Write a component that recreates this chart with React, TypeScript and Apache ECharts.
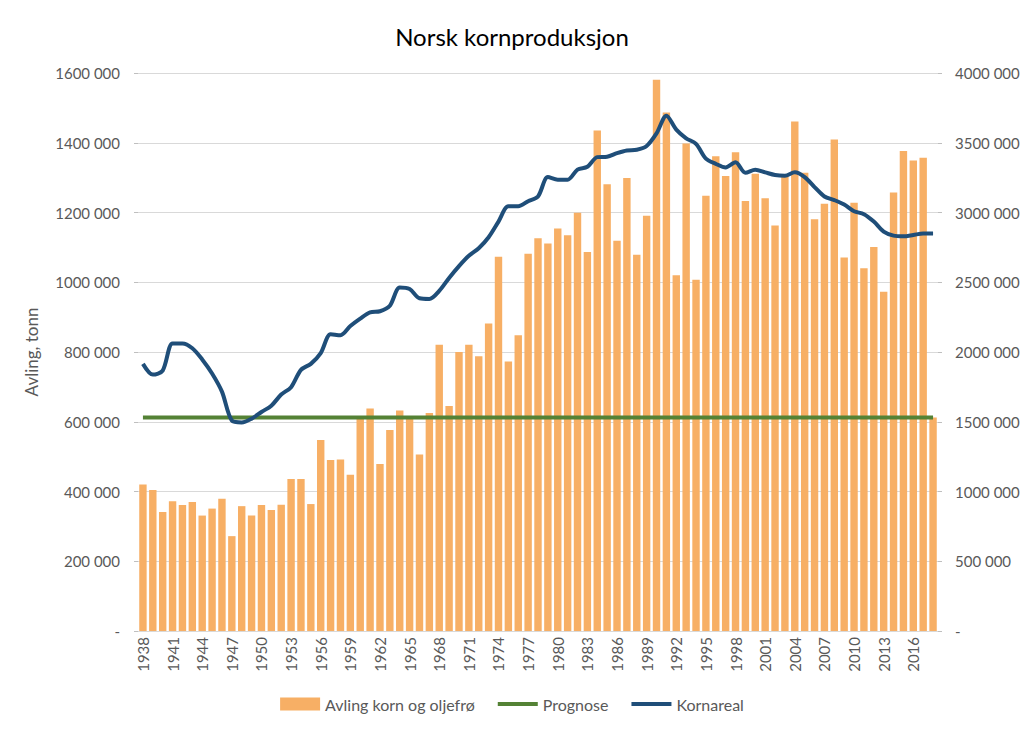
import React, { useEffect, useRef } from "react";
import * as echarts from "echarts";

const years: string[] = [];
for (let y = 1938; y <= 2018; y++) years.push(String(y));

const avling: number[] = [
  420000, 404000, 341000, 372000, 361000, 370000, 331000, 351000, 379000, 272000,
  358000, 331000, 361000, 347000, 362000, 436000, 436000, 364000, 548000, 490000,
  492000, 448000, 614000, 638000, 479000, 576000, 632000, 609000, 506000, 625000,
  821000, 645000, 800000, 821000, 788000, 882000, 1073000, 773000, 848000, 1082000,
  1126000, 1111000, 1154000, 1135000, 1199000, 1087000, 1435000, 1281000, 1119000, 1299000,
  1079000, 1191000, 1581000, 1487000, 1020000, 1398000, 1007000, 1248000, 1361000, 1305000,
  1373000, 1233000, 1311000, 1241000, 1163000, 1307000, 1461000, 1314000, 1181000, 1225000,
  1409000, 1071000, 1228000, 1040000, 1101000, 973000, 1257000, 1376000, 1349000, 1357000,
  612000,
];

const prognoseValue = 612000;
const prognose: number[] = years.map(() => prognoseValue);

const kornareal: number[] = [
  1915000, 1838000, 1867000, 2061000, 2061000, 2027000, 1947000, 1846000, 1716000, 1509000,
  1495000, 1522000, 1570000, 1615000, 1695000, 1748000, 1872000, 1915000, 1992000, 2127000,
  2120000, 2186000, 2239000, 2284000, 2292000, 2332000, 2462000, 2451000, 2385000, 2380000,
  2438000, 2531000, 2616000, 2690000, 2744000, 2823000, 2935000, 3044000, 3044000, 3081000,
  3115000, 3254000, 3235000, 3235000, 3307000, 3328000, 3397000, 3400000, 3426000, 3445000,
  3450000, 3477000, 3567000, 3694000, 3594000, 3532000, 3492000, 3386000, 3349000, 3323000,
  3360000, 3285000, 3307000, 3288000, 3269000, 3264000, 3288000, 3254000, 3182000, 3115000,
  3089000, 3057000, 3009000, 2988000, 2935000, 2863000, 2834000, 2829000, 2839000, 2850000,
  2850000,
];

const fmt = (v: number): string => {
  if (v === 0) return "-";
  const th = Math.floor(v / 1000);
  const rest = String(v % 1000).padStart(3, "0");
  return `${th} ${rest}`;
};

const FONT = "Lato, 'Open Sans', sans-serif";
const GREY = "#595959";
const LINE_ICON = "path://M0,0 L40,0 L40,4 L0,4 Z";

export default function App() {
  const ref = useRef<HTMLDivElement>(null);
  useEffect(() => {
    if (!ref.current) return;
    const chart = echarts.init(ref.current, null, { renderer: "svg" });
    chart.setOption({
      animation: false,
      backgroundColor: "#fff",
      textStyle: { fontFamily: FONT },
      title: {
        text: "Norsk kornproduksjon",
        left: "center",
        top: 19,
        textStyle: { fontFamily: FONT, fontSize: 24, fontWeight: "normal", color: "#000" },
      },
      legend: {
        bottom: 19,
        left: "center",
        itemGap: 23,
        itemWidth: 40,
        itemHeight: 13,
        itemTextGap: 2,
        textStyle: { fontFamily: FONT, fontSize: 16, color: GREY },
        data: [
          { name: "Avling korn og oljefrø", icon: "rect" },
          { name: "Prognose", icon: LINE_ICON },
          { name: "Kornareal", icon: LINE_ICON },
        ],
      },
      grid: { left: 138, right: 86, top: 73, bottom: 105 },
      xAxis: {
        type: "category",
        data: years,
        axisLine: { lineStyle: { color: "#d9d9d9" } },
        axisTick: { show: false },
        axisLabel: {
          interval: 2,
          rotate: 90,
          fontSize: 15,
          color: GREY,
          fontFamily: FONT,
          margin: 6,
        },
      },
      yAxis: [
        {
          type: "value",
          min: 0,
          max: 1600000,
          interval: 200000,
          name: "Avling, tonn",
          nameLocation: "middle",
          nameGap: 98,
          nameTextStyle: { fontFamily: FONT, fontSize: 17, color: GREY },
          axisLine: { show: false },
          axisTick: { show: true, length: 4, lineStyle: { color: "#bfbfbf" } },
          splitLine: { lineStyle: { color: "#d9d9d9", width: 1 } },
          axisLabel: { formatter: fmt, fontSize: 15, color: GREY, fontFamily: FONT, margin: 18 },
        },
        {
          type: "value",
          min: 0,
          max: 4000000,
          interval: 500000,
          axisLine: { show: false },
          axisTick: { show: true, length: 4, lineStyle: { color: "#bfbfbf" } },
          splitLine: { show: false },
          axisLabel: { formatter: fmt, fontSize: 15, color: GREY, fontFamily: FONT, margin: 17 },
        },
      ],
      series: [
        {
          name: "Avling korn og oljefrø",
          type: "bar",
          data: avling,
          barCategoryGap: "25%",
          itemStyle: { color: "#F7AF65" },
        },
        {
          name: "Prognose",
          type: "line",
          data: prognose,
          symbol: "none",
          lineStyle: { color: "#548235", width: 4 },
          itemStyle: { color: "#548235" },
        },
        {
          name: "Kornareal",
          type: "line",
          yAxisIndex: 1,
          data: kornareal,
          symbol: "none",
          smooth: 0.3,
          lineStyle: { color: "#1F4E79", width: 4 },
          itemStyle: { color: "#1F4E79" },
        },
      ],
    });
    return () => chart.dispose();
  }, []);
  return <div ref={ref} style={{ width: 1024, height: 736, position: "absolute", left: 0, top: 0 }} />;
}
